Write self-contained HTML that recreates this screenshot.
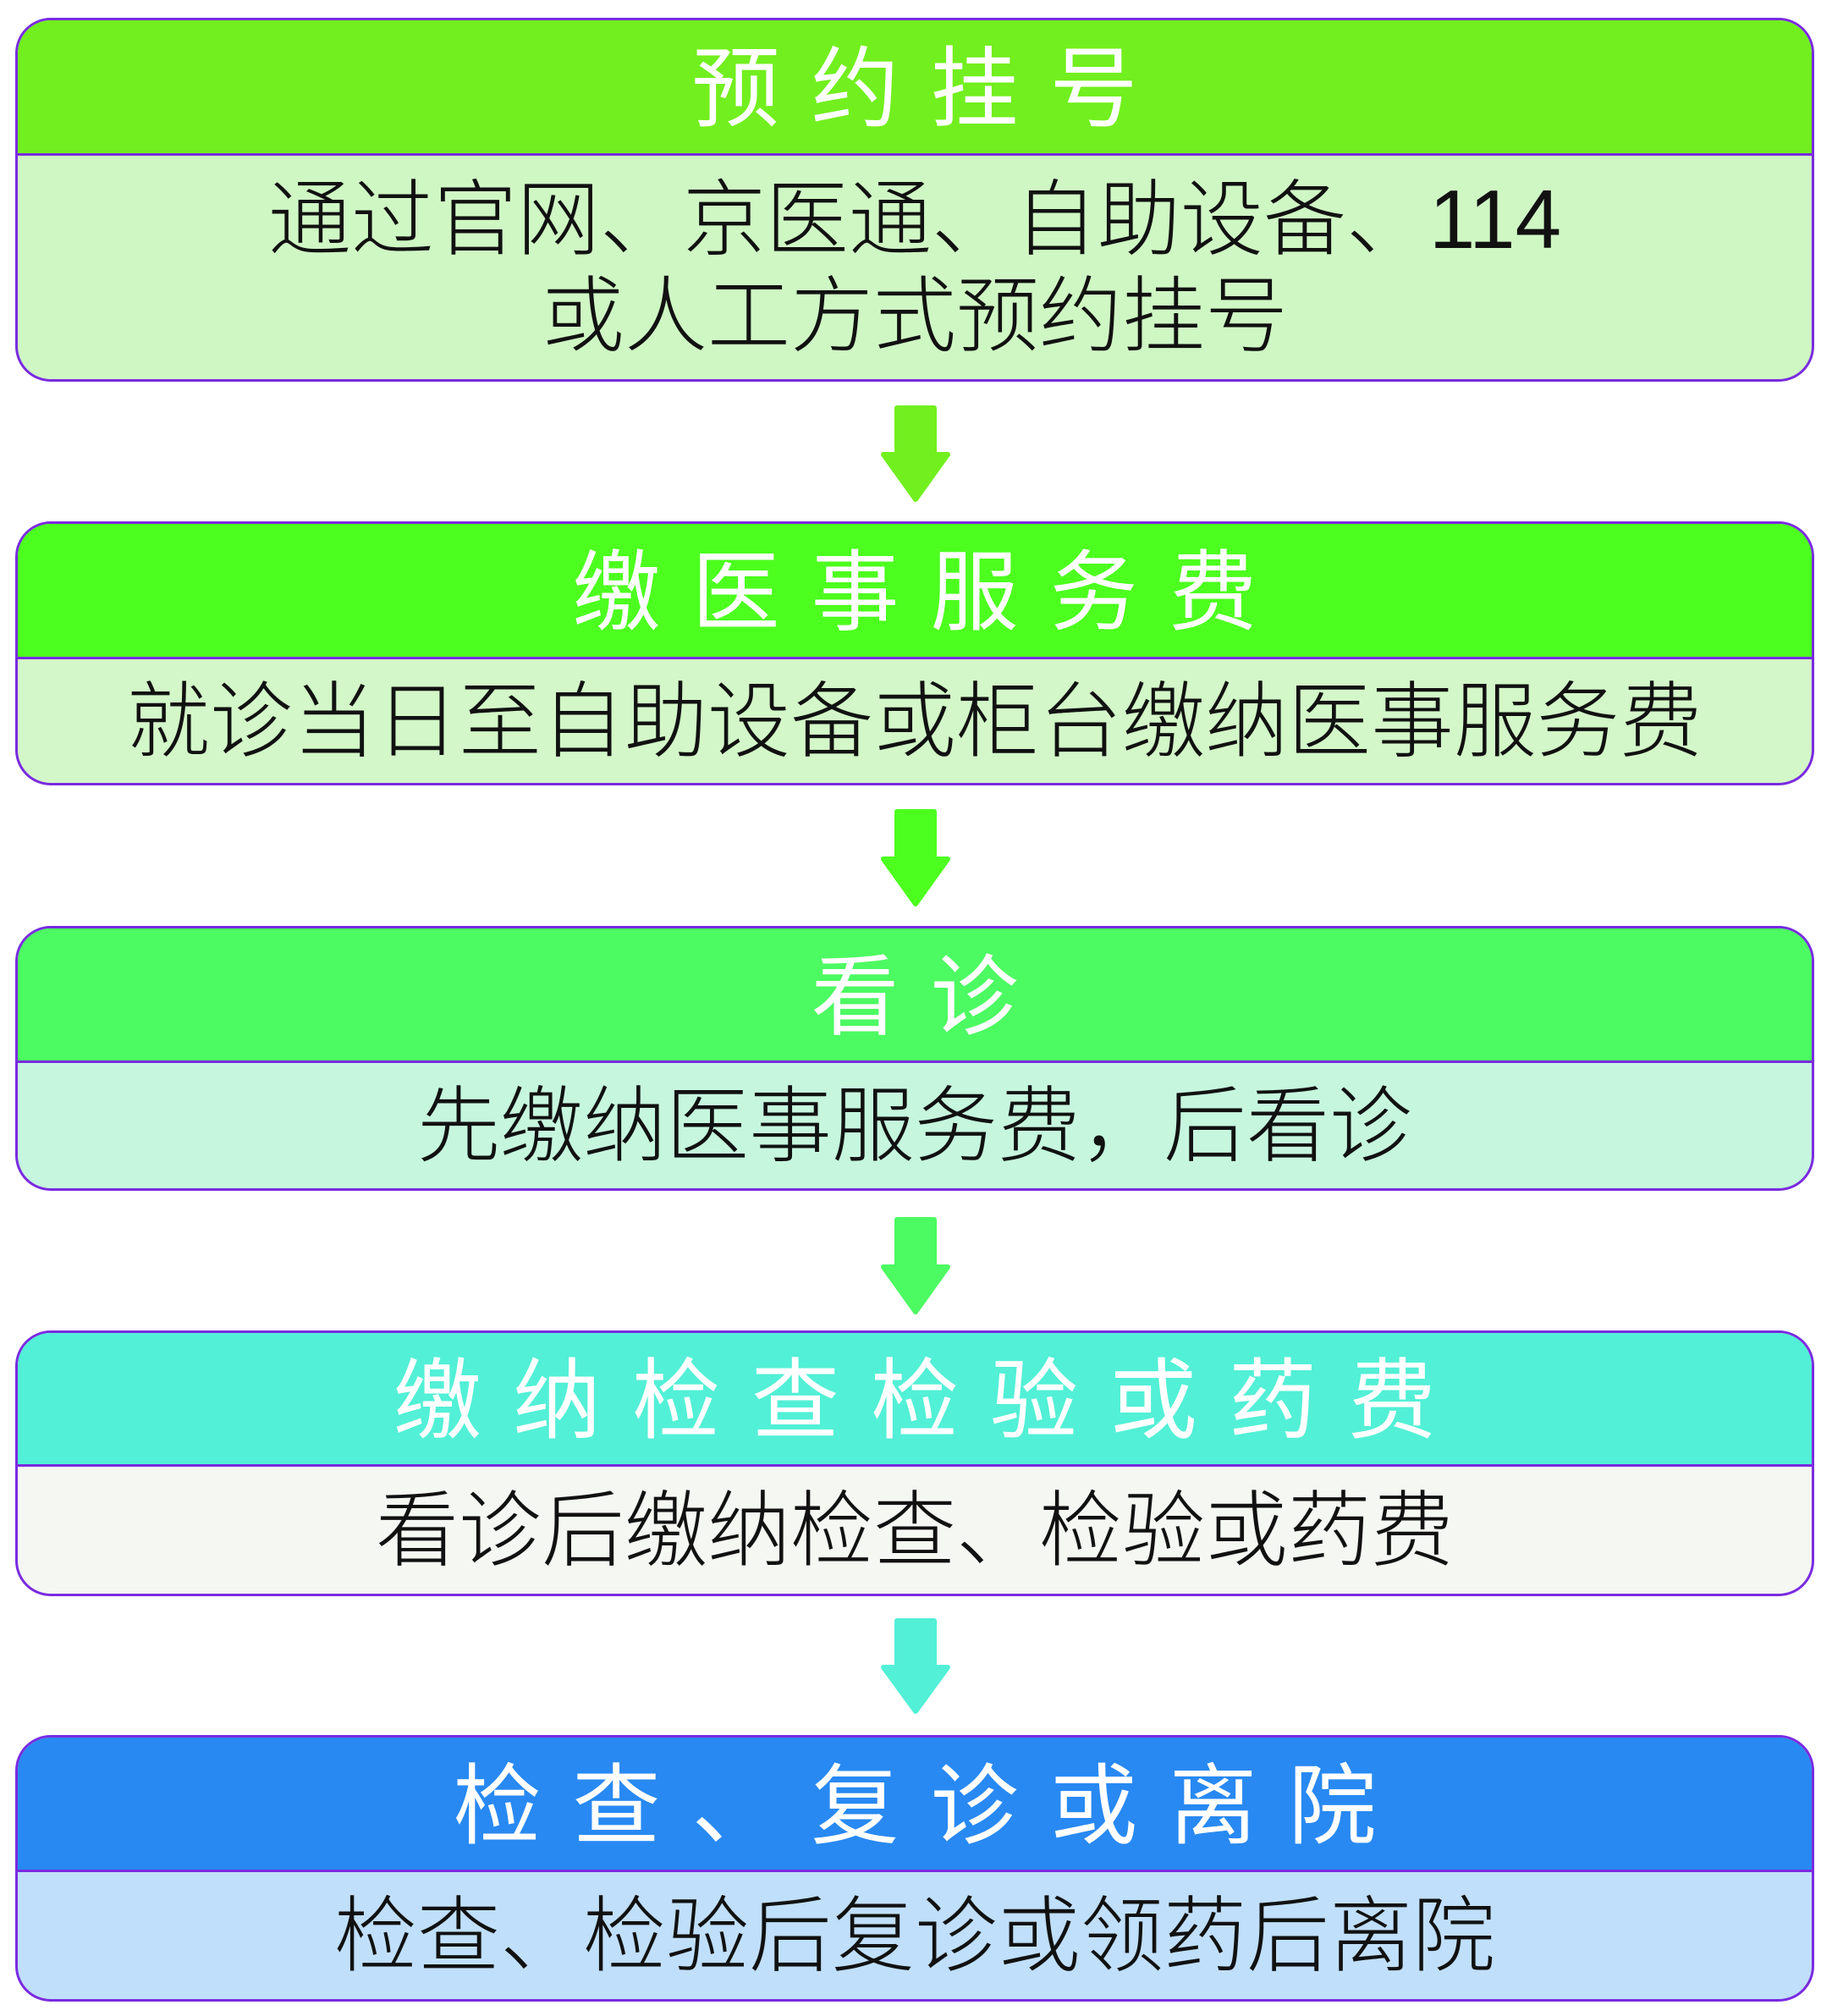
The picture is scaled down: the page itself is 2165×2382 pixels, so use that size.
<!DOCTYPE html>
<html><head><meta charset="utf-8"><style>
body{margin:0;width:2165px;height:2382px;background:#fff;position:relative;overflow:hidden;font-family:"Liberation Sans","Noto Sans CJK SC",sans-serif}
.box{position:absolute;left:18px;width:2126px;border:3px solid #7a2be0;border-radius:42px;overflow:hidden;box-sizing:border-box}
.hd{position:absolute;left:0;right:0;top:0;border-bottom:3px solid #7a2be0;display:flex;align-items:center;justify-content:center;color:#fff;font-size:104px;letter-spacing:37px;text-indent:37px;font-weight:400;white-space:nowrap;box-sizing:border-box;padding-bottom:14px}
.bd{position:absolute;left:0;right:0;bottom:0;display:flex;align-items:center;justify-content:center;text-align:center;color:#111;font-size:98px;line-height:114px;font-weight:300;white-space:nowrap}
svg{position:absolute;left:0;top:0}
</style></head><body>
<div class="box" style="top:21px;height:430px;background:#cff7c4"><div class="hd" style="height:160px;background:#72ef1e">预约挂号</div><div class="bd" style="top:160px">通过官网、京医通、自助设备、114<br>或人工方式预约挂号</div></div>
<div class="box" style="top:616px;height:312px;background:#d3f7c8"><div class="hd" style="height:160px;background:#4cff1e">缴医事服务费</div><div class="bd" style="top:160px">就诊当日至自助设备或柜台缴纳医事服务费</div></div>
<div class="box" style="top:1094px;height:313px;background:#c6f7de"><div class="hd" style="height:159px;background:#4cfa62">看诊</div><div class="bd" style="top:159px">先缴纳医事服务费，后看诊</div></div>
<div class="box" style="top:1572px;height:314px;background:#f5f7f2"><div class="hd" style="height:158px;background:#52f0d6">缴纳检查检验或药费</div><div class="bd" style="top:158px">看诊后缴纳检查、检验或药费</div></div>
<div class="box" style="top:2050px;height:315px;background:#c0dffa"><div class="hd" style="height:159px;background:#2889f2">检查、复诊或离院</div><div class="bd" style="top:159px">检查、检验后复诊或领药后离院</div></div>
<svg width="2165" height="2382">
<g stroke-linejoin="round" stroke-width="6">
<path d="M1060 482H1104V537H1120L1082 590L1044 537H1060Z" fill="#72ef1e" stroke="#72ef1e"/>
<path d="M1060 959H1104V1015H1120L1082 1068L1044 1015H1060Z" fill="#4cff1e" stroke="#4cff1e"/>
<path d="M1060 1441H1104V1497H1120L1082 1550L1044 1497H1060Z" fill="#4cfa62" stroke="#4cfa62"/>
<path d="M1060 1915H1104V1970H1120L1082 2022L1044 1970H1060Z" fill="#52f0d6" stroke="#52f0d6"/>
</g></svg>
</body></html>
